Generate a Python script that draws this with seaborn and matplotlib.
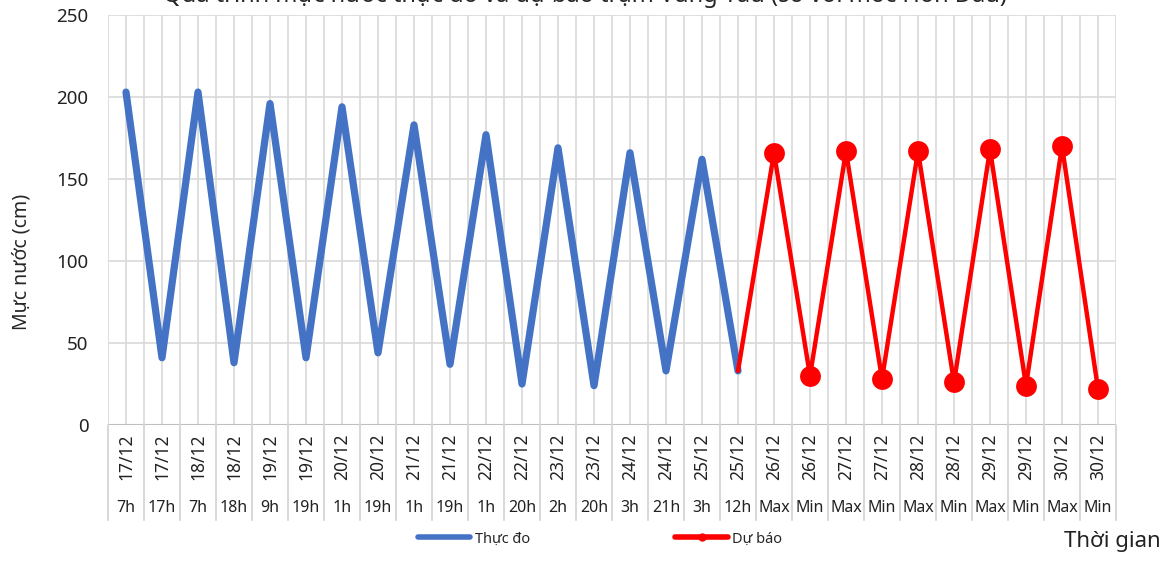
import pandas as pd
import matplotlib.pyplot as plt
import seaborn as sns
from matplotlib.lines import Line2D

# Data
dates = ["17/12", "17/12", "18/12", "18/12", "19/12", "19/12", "20/12", "20/12",
         "21/12", "21/12", "22/12", "22/12", "23/12", "23/12", "24/12", "24/12",
         "25/12", "25/12", "26/12", "26/12", "27/12", "27/12", "28/12", "28/12",
         "29/12", "29/12", "30/12", "30/12"]
hours = ["7h", "17h", "7h", "18h", "9h", "19h", "1h", "19h", "1h", "19h", "1h", "20h",
         "2h", "20h", "3h", "21h", "3h", "12h", "Max", "Min", "Max", "Min", "Max", "Min",
         "Max", "Min", "Max", "Min"]
thuc_do = [203, 41, 203, 38, 196, 41, 194, 44, 183, 37, 177, 25, 169, 24, 166, 33, 162, 33]
du_bao = [33, 166, 30, 167, 28, 167, 26, 168, 24, 170, 22]

BLUE = "#4472C4"
RED = "#FF0000"
GRID = "#D9D9D9"

sns.set_style("white")
plt.rcParams['font.family'] = ['Noto Sans', 'DejaVu Sans']

n = len(dates)
df_obs = pd.DataFrame({"x": range(len(thuc_do)), "y": thuc_do})
start = len(thuc_do) - 1
df_fc = pd.DataFrame({"x": range(start, start + len(du_bao)), "y": du_bao})

fig = plt.figure(figsize=(11.74, 5.61), dpi=100)
ax = fig.add_axes([108 / 1174, 1 - 425 / 561, (1116 - 108) / 1174, 410 / 561])

# grid: horizontal every 50, vertical every half category
for v in range(0, 251, 50):
    ax.axhline(v, color=GRID, lw=1.2, zorder=0)
for k in range(2 * n + 1):
    ax.axvline(-0.5 + k * 0.5, color=GRID, lw=1.2, zorder=0)

sns.lineplot(data=df_obs, x="x", y="y", ax=ax, color=BLUE, lw=5.2,
             solid_joinstyle="round", solid_capstyle="round", zorder=3)
sns.lineplot(data=df_fc, x="x", y="y", ax=ax, color=RED, lw=3.2,
             solid_joinstyle="round", marker="o", markersize=15, markeredgewidth=0,
             markevery=list(range(1, len(du_bao))), zorder=4)

ax.set_xlim(-0.5, n - 0.5)
ax.set_ylim(0, 250)
ax.set_yticks(range(0, 251, 50))
ax.set_xticks([])
ax.set_xlabel("")
ax.set_ylabel("")
ax.tick_params(axis="y", length=0, pad=14, labelsize=13.5, colors="#222222")
for s in ax.spines.values():
    s.set_visible(False)
ax.axhline(0, color="#BFBFBF", lw=1.5, zorder=2)

# two-level category axis
tr = ax.get_xaxis_transform()
for i in range(n):
    ax.text(i, -0.077, dates[i], rotation=90, ha="center", va="center",
            fontsize=12.5, color="#222222", transform=tr, clip_on=False)
    ax.text(i, -0.203, hours[i], ha="center", va="center",
            fontsize=11.5, color="#222222", transform=tr, clip_on=False)
for k in range(n + 1):
    ax.plot([k - 0.5, k - 0.5], [0, -0.232], color=GRID, lw=1.5,
            transform=tr, clip_on=False)

# labels
fig.text(22 / 1174, 1 - 262 / 561, "Mực nước (cm)", rotation=90,
         ha="center", va="center", fontsize=14)
fig.text(1112 / 1174, 1 - 541 / 561, "Thời gian", ha="center", va="center",
         fontsize=16, color="#222222")
fig.text(585 / 1174, 1 - 2.5 / 561,
         "Quá trình mực nước thực đo và dự báo trạm Vũng Tàu (so với mốc Hòn Dấu)",
         ha="center", va="baseline", fontsize=17, fontweight="bold")

# legend
handles = [Line2D([], [], color=BLUE, lw=4),
           Line2D([], [], color=RED, lw=4, marker="o", markersize=5)]
fig.legend(handles, ["Thực đo", "Dự báo"], loc="center",
           bbox_to_anchor=(600 / 1174, 1 - 539 / 561), ncol=2, frameon=False,
           fontsize=10.5, handlelength=3.6, handletextpad=0.3, columnspacing=10)

fig.savefig("out.png", dpi=100)
